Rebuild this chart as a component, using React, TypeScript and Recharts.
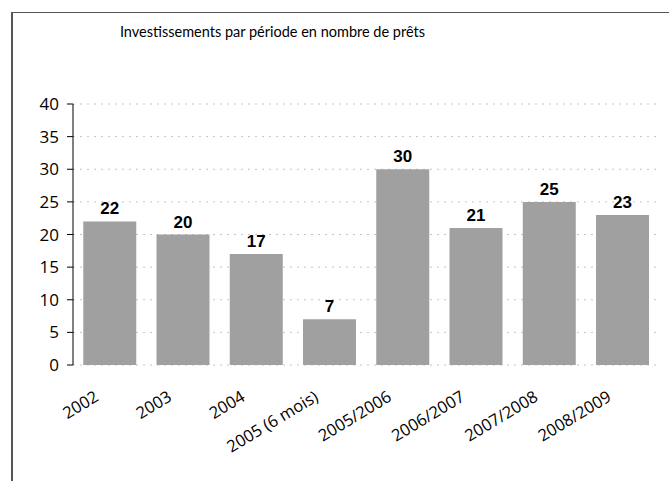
import { BarChart, Bar, XAxis, YAxis, CartesianGrid, LabelList } from 'recharts';

// values
const periods = [
  '2002',
  '2003',
  '2004',
  '2005 (6 mois)',
  '2005/2006',
  '2006/2007',
  '2007/2008',
  '2008/2009',
];
const loans = [22, 20, 17, 7, 30, 21, 25, 23];
const yTicks = [0, 5, 10, 15, 20, 25, 30, 35, 40];
// category boundaries, where Excel puts the x tick marks
const edges = periods.map((_, i) => i).concat(periods.length);

const data = periods.map((period, i) => ({ period, loans: loans[i] }));

const W = 669;
const H = 481;
const LEFT = 73;
const RIGHT = 10;

function PeriodTick(props: any) {
  const { x, y, payload } = props;
  const cx = Number(x) - 10;
  const cy = Number(y) + 35;
  return (
    <text
      x={cx}
      y={cy}
      textAnchor="end"
      transform={`rotate(-31 ${cx} ${cy})`}
      fontSize={16.5}
      fontFamily="'Open Sans', sans-serif"
      fill="#000"
    >
      {payload.value}
    </text>
  );
}

export default function App() {
  return (
    <div style={{ position: 'absolute', left: 0, top: 0, width: W, height: H, background: '#fff' }}>
      <div
        style={{
          position: 'absolute',
          left: 11,
          top: 12,
          right: 0,
          bottom: 0,
          borderLeft: '2px solid #555',
          borderTop: '1px solid #555',
        }}
      />
      <div
        style={{
          position: 'absolute',
          left: 0,
          width: 545,
          top: 23,
          textAlign: 'center',
          fontFamily: 'Lato, sans-serif',
          fontSize: 14.5,
          color: '#000',
        }}
      >
        Investissements par période en nombre de prêts
      </div>
      <BarChart
        width={W}
        height={H}
        data={data}
        margin={{ top: 104, right: RIGHT, left: 0, bottom: 56 }}
        barCategoryGap="14%"
      >
        <CartesianGrid vertical={false} stroke="#c4c4c4" strokeDasharray="2 5" xAxisId="cat" />
        <YAxis
          width={LEFT}
          domain={[0, 40]}
          ticks={yTicks}
          interval={0}
          axisLine={{ stroke: '#000' }}
          tickLine={{ stroke: '#000' }}
          tickSize={6}
          tickMargin={8}
          tick={{ fill: '#000', fontSize: 17, fontFamily: "'Open Sans', sans-serif" }}
        />
        <XAxis
          xAxisId="edges"
          type="number"
          domain={[0, periods.length]}
          ticks={edges}
          interval={0}
          height={0}
          axisLine={{ stroke: '#000' }}
          tickLine={{ stroke: '#000' }}
          tickSize={7}
          tick={false}
        />
        <XAxis
          xAxisId="cat"
          dataKey="period"
          height={60}
          interval={0}
          axisLine={false}
          tickLine={false}
          tickSize={0}
          tickMargin={0}
          tick={(p: any) => <PeriodTick {...p} />}
        />
        <Bar xAxisId="cat" dataKey="loans" fill="#a0a0a0" isAnimationActive={false}>
          <LabelList
            dataKey="loans"
            position="top"
            offset={7}
            fill="#000"
            fontSize={17}
            fontWeight="bold"
            fontFamily="'Liberation Sans', Arial, sans-serif"
          />
        </Bar>
      </BarChart>
    </div>
  );
}
